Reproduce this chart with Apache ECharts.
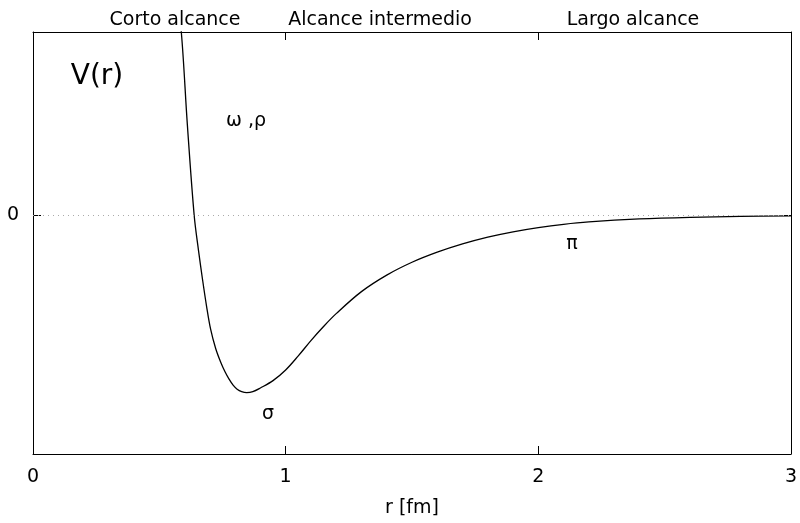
<!DOCTYPE html>
<html>
<head>
<meta charset="utf-8">
<script src="https://cdn.jsdelivr.net/npm/echarts@6/dist/echarts.min.js"></script>
<style>
html,body{margin:0;padding:0;background:#fff;}
#c{width:800px;height:523px;}
</style>
</head>
<body>
<div id="c"></div>
<script>
// r [fm]
const rValues = [0.575, 0.587, 0.611, 0.638, 0.655, 0.671, 0.687, 0.703, 0.723, 0.743, 0.76, 0.776, 0.792, 0.808, 0.826, 0.846, 0.87, 0.9, 0.95, 1.0, 1.05, 1.1, 1.15, 1.2, 1.3, 1.4, 1.5, 1.6, 1.7, 1.8, 1.9, 2.0, 2.1, 2.2, 2.4, 2.6, 2.8, 3.0];
// V(r), arbitrary units
const vValues = [1.08, 1.0, 0.494, 0.0, -0.19, -0.349, -0.495, -0.620, -0.725, -0.80, -0.852, -0.892, -0.925, -0.947, -0.960, -0.965, -0.960, -0.940, -0.900, -0.842, -0.765, -0.682, -0.605, -0.535, -0.415, -0.325, -0.255, -0.200, -0.155, -0.118, -0.089, -0.066, -0.048, -0.035, -0.019, -0.010, -0.005, -0.002];
const xTicks = [0, 1, 2, 3];
const yTicks = [0];
const regionLabels = ['Corto alcance', 'Alcance intermedio', 'Largo alcance'];
const mesonLabels = ['ω ,ρ', 'σ', 'π'];

const FONT = 'DejaVu Sans';
const chart = echarts.init(document.getElementById('c'));
const lineStyleAxis = {color: '#000', width: 1};
const axisLineCfg = {show: true, onZero: false, lineStyle: lineStyleAxis};
chart.setOption({
  animation: false,
  backgroundColor: '#fff',
  grid: {left: 33, right: 5, top: 32, bottom: 68},
  xAxis: [{
    type: 'value', min: 0, max: 3, interval: 1, position: 'bottom',
    name: 'r [fm]', nameLocation: 'middle', nameGap: 45,
    nameTextStyle: {fontFamily: FONT, fontSize: 19, color: '#000'},
    axisLine: axisLineCfg,
    axisTick: {inside: true, length: 8, lineStyle: lineStyleAxis},
    axisLabel: {fontFamily: FONT, fontSize: 19, color: '#000', margin: 14},
    splitLine: {show: false}
  }, {
    type: 'value', min: 0, max: 3, interval: 1, position: 'top',
    axisLine: axisLineCfg,
    axisTick: {inside: true, length: 8, lineStyle: lineStyleAxis},
    axisLabel: {show: false},
    splitLine: {show: false}
  }],
  yAxis: [{
    type: 'value', min: -1.3, max: 1.0, position: 'left',
    axisLine: axisLineCfg,
    axisTick: {show: true, inside: true, length: 8, customValues: yTicks, lineStyle: lineStyleAxis},
    axisLabel: {fontFamily: FONT, fontSize: 19, color: '#000', margin: 14, customValues: yTicks},
    splitLine: {show: false}
  }, {
    type: 'value', min: -1.3, max: 1.0, position: 'right',
    axisLine: axisLineCfg,
    axisTick: {show: true, inside: true, length: 8, customValues: yTicks, lineStyle: lineStyleAxis},
    axisLabel: {show: false},
    splitLine: {show: false}
  }],
  series: [{
    type: 'line',
    data: rValues.map((r, i) => [r, vValues[i]]),
    smooth: 0.35,
    showSymbol: false,
    clip: true,
    z: 3,
    lineStyle: {color: '#000', width: 1.3},
    markLine: {
      silent: true, symbol: 'none', label: {show: false},
      lineStyle: {color: '#aaa', type: [1, 4], width: 1},
      data: [{yAxis: 0}]
    }
  }],
  graphic: [
    {type: 'text', x: 175, y: 20, style: {text: regionLabels[0], font: '19px "DejaVu Sans"', fill: '#000', align: 'center', verticalAlign: 'middle'}},
    {type: 'text', x: 380, y: 20, style: {text: regionLabels[1], font: '19px "DejaVu Sans"', fill: '#000', align: 'center', verticalAlign: 'middle'}},
    {type: 'text', x: 633, y: 20, style: {text: regionLabels[2], font: '19px "DejaVu Sans"', fill: '#000', align: 'center', verticalAlign: 'middle'}},
    {type: 'text', x: 97, y: 77, style: {text: 'V(r)', font: '28px "DejaVu Sans"', fill: '#000', align: 'center', verticalAlign: 'middle'}},
    {type: 'text', x: 246, y: 121, style: {text: mesonLabels[0], font: '19px "DejaVu Sans"', fill: '#000', align: 'center', verticalAlign: 'middle'}},
    {type: 'text', x: 268, y: 414, style: {text: mesonLabels[1], font: '19px "DejaVu Sans"', fill: '#000', align: 'center', verticalAlign: 'middle'}},
    {type: 'text', x: 572, y: 244, style: {text: mesonLabels[2], font: '19px "DejaVu Sans"', fill: '#000', align: 'center', verticalAlign: 'middle'}}
  ]
});
</script>
</body>
</html>
